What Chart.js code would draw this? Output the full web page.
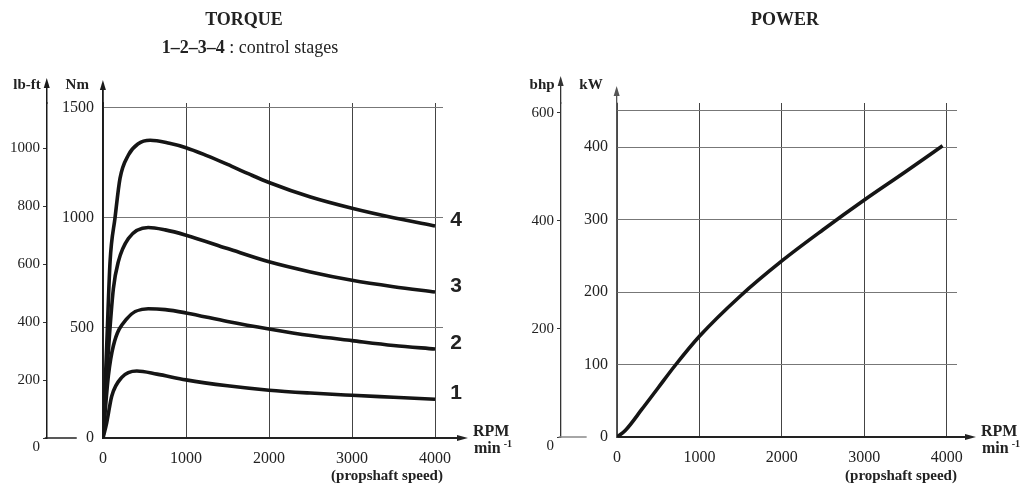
<!DOCTYPE html>
<html>
<head>
<meta charset="utf-8">
<script src="https://cdn.jsdelivr.net/npm/chart.js@4.4.1/dist/chart.umd.min.js"></script>
<style>
  html, body { margin:0; padding:0; background:#fff; }
  body { width:1029px; height:491px; position:relative; overflow:hidden; font-family:"Liberation Serif", serif; color:#222; }
  canvas { position:absolute; top:0; }
  #torque { left:0; }
  #power { left:514px; }
  .t { position:absolute; white-space:nowrap; transform:translate(-50%,-50%); }
  .title { font-weight:bold; font-size:18px; }
  .sub { font-size:18px; }
  .sub b { font-weight:bold; }
</style>
</head>
<body>
<canvas id="torque" width="514" height="491"></canvas>
<canvas id="power" width="515" height="491"></canvas>
<div class="t title" style="left:244px;top:19px;">TORQUE</div>
<div class="t sub" style="left:250px;top:47px;"><b>1–2–3–4</b> : control stages</div>
<div class="t title" style="left:785px;top:19px;">POWER</div>

<script>
// ---------- data ----------
const rpmTicks = [0, 1000, 2000, 3000, 4000];
const nmTicks = [0, 500, 1000, 1500];
const lbftTicks = [0, 200, 400, 600, 800, 1000];
const kwTicks = [0, 100, 200, 300, 400, 450];
const kwLabelled = [0, 100, 200, 300, 400];
const bhpTicks = [0, 200, 400, 600];

const stageNames = ['1', '2', '3', '4'];

const rpmStage1 = [0, 45, 105, 226, 407, 650, 1000, 1500, 2000, 2500, 3000, 3500, 4000];
const nmStage1  = [0, 70, 190, 275, 304, 290, 264, 237, 217, 204, 194, 185, 176];

const rpmStage2 = [0, 65, 125, 286, 545, 750, 1000, 1500, 2000, 2500, 3000, 3500, 4000];
const nmStage2  = [0, 283, 419, 541, 587, 583, 568, 529, 495, 465, 442, 420, 404];

const rpmStage3 = [0, 60, 125, 185, 306, 545, 750, 1000, 1500, 2000, 2500, 3000, 3500, 4000];
const nmStage3  = [0, 370, 678, 801, 906, 956, 945, 921, 860, 800, 754, 716, 687, 663];

const rpmStage4 = [0, 45, 85, 145, 205, 306, 420, 568, 800, 1000, 1250, 1500, 1750, 2000, 2500, 3000, 3500, 4000];
const nmStage4  = [0, 420, 800, 1000, 1179, 1285, 1335, 1352, 1338, 1318, 1282, 1242, 1200, 1160, 1094, 1043, 1000, 963];

const rpmPower = [0, 100, 300, 500, 700, 1000, 1500, 2000, 2500, 3000, 3500, 3950];
const kwPower  = [0, 9, 38, 68, 98, 139, 195, 243, 286, 327, 366, 402];

// ---------- helpers ----------
const zip = (xs, ys) => xs.map((x, i) => ({ x: x, y: ys[i] }));
const SERIF = '"Liberation Serif", serif';
const SANS = '"Liberation Sans", Arial, sans-serif';

function alignX(scale, w) { return Math.round(scale.right - w / 2) + w / 2; }

function decorPlugin(cfg) {
  return {
    id: 'decor',
    afterDraw(chart) {
      const ctx = chart.ctx, ca = chart.chartArea;
      const inner = chart.scales[cfg.inner], outer = chart.scales[cfg.outer], xs = chart.scales.x;
      ctx.save();
      const vArrow = (x, y0, tip, color, w) => {
        ctx.strokeStyle = color; ctx.fillStyle = color; ctx.lineWidth = w;
        ctx.beginPath(); ctx.moveTo(x, y0); ctx.lineTo(x, tip + 6); ctx.stroke();
        ctx.beginPath(); ctx.moveTo(x, tip); ctx.lineTo(x - 3, tip + 10); ctx.lineTo(x + 3, tip + 10); ctx.closePath(); ctx.fill();
      };
      const ix = alignX(inner, cfg.innerW), ox = alignX(outer, cfg.outerW);
      vArrow(ix, ca.top + 1, cfg.innerTip, cfg.innerColor, cfg.innerW);
      vArrow(ox, ca.top + 1, cfg.outerTip, cfg.outerColor, cfg.outerW);
      // x axis arrow
      const by = Math.round(ca.bottom - 1) + 1;
      ctx.strokeStyle = '#222'; ctx.fillStyle = '#222'; ctx.lineWidth = 2;
      ctx.beginPath(); ctx.moveTo(ca.right - 1, by); ctx.lineTo(cfg.xTip - 6, by); ctx.stroke();
      ctx.beginPath(); ctx.moveTo(cfg.xTip, by); ctx.lineTo(cfg.xTip - 11, by - 3); ctx.lineTo(cfg.xTip - 11, by + 3); ctx.closePath(); ctx.fill();
      // baseline segment of outer axis
      ctx.strokeStyle = cfg.baseColor; ctx.lineWidth = 1.5;
      ctx.beginPath(); ctx.moveTo(ox - 2, by); ctx.lineTo(ox + cfg.baseLen, by); ctx.stroke();
      // unit labels
      ctx.fillStyle = '#222'; ctx.textBaseline = 'middle'; ctx.textAlign = 'right';
      ctx.font = 'bold 15px ' + SERIF;
      ctx.fillText(cfg.outerUnit, ox - 6, 85);
      ctx.fillText(cfg.innerUnit, ix - 14, 85);
      // RPM label
      ctx.textAlign = 'left';
      ctx.font = 'bold 16px ' + SERIF;
      ctx.fillText('RPM', cfg.xTip + 5, 432);
      ctx.fillText('min', cfg.xTip + 6, 449);
      const mw = ctx.measureText('min').width;
      ctx.font = 'bold 10px ' + SERIF;
      ctx.fillText('-1', cfg.xTip + 9 + mw, 444);
      // propshaft
      ctx.textAlign = 'center';
      ctx.font = 'bold 15px ' + SERIF;
      ctx.fillText('(propshaft speed)', xs.left + 284, 476);
      // curve labels
      if (cfg.curveLabels) {
        ctx.font = 'bold 21px ' + SANS;
        ctx.textAlign = 'center';
        chart.data.datasets.forEach((ds, i) => {
          const pts = chart.getDatasetMeta(i).data;
          const last = pts[pts.length - 1];
          ctx.fillText(ds.label, ca.right + 13, last.y - 6);
        });
      }
      ctx.restore();
    }
  };
}

function tickSetter(list) { return s => { s.ticks = list.map(v => ({ value: v })); }; }
const plain = v => String(v);

function xScale(max) {
  return {
    type: 'linear', min: 0, max: max,
    afterBuildTicks: tickSetter(rpmTicks),
    grid: { color: '#444', lineWidth: 1, drawTicks: false },
    border: { color: '#222', width: 2 },
    ticks: { padding: 11, autoSkip: false, maxRotation: 0, color: '#222', font: { family: SERIF, size: 16 }, callback: plain },
    afterFit: s => { s.height = 491 - 438; }
  };
}

// ---------- torque chart ----------
const stageRpm = [rpmStage1, rpmStage2, rpmStage3, rpmStage4];
const stageNm = [nmStage1, nmStage2, nmStage3, nmStage4];

new Chart(document.getElementById('torque'), {
  type: 'line',
  data: {
    datasets: stageNames.map((n, i) => ({
      label: n, data: zip(stageRpm[i], stageNm[i]), yAxisID: 'nm',
      borderColor: '#151515', borderWidth: 3.6, pointRadius: 0,
      cubicInterpolationMode: 'monotone', fill: false
    }))
  },
  options: {
    responsive: false, animation: false, devicePixelRatio: 1,
    layout: { padding: { left: 0, top: 103, right: 71, bottom: 0 } },
    plugins: { legend: { display: false }, tooltip: { enabled: false }, title: { display: false } },
    scales: {
      x: xScale(4096),
      nm: {
        position: 'left', weight: 1, min: 0, max: 1521,
        afterBuildTicks: tickSetter(nmTicks),
        grid: { color: '#777', lineWidth: 1, drawTicks: false },
        border: { color: '#1a1a1a', width: 1.8 },
        ticks: { padding: 9, color: '#222', font: { family: SERIF, size: 16 }, callback: plain },
        afterFit: s => { s.width = 56; }
      },
      lbft: {
        position: 'left', weight: 2, min: 0, max: 1156,
        afterBuildTicks: tickSetter(lbftTicks),
        grid: { drawOnChartArea: false, drawTicks: true, tickLength: 4, color: '#333' },
        border: { color: '#1a1a1a', width: 1.5 },
        ticks: { padding: 3, color: '#222', font: { family: SERIF, size: 15 },
                 callback: v => v === 0 ? ['', '0'] : String(v) },
        afterFit: s => { s.width = 47; }
      }
    }
  },
  plugins: [decorPlugin({
    inner: 'nm', outer: 'lbft', innerW: 1.8, outerW: 1.5,
    innerColor: '#1a1a1a', outerColor: '#1a1a1a',
    innerTip: 80, outerTip: 78, xTip: 468, baseLen: 30, baseColor: '#222',
    innerUnit: 'Nm', outerUnit: 'lb-ft', curveLabels: true
  })]
});

// ---------- power chart ----------
new Chart(document.getElementById('power'), {
  type: 'line',
  data: {
    datasets: [{
      label: 'power', data: zip(rpmPower, kwPower), yAxisID: 'kw',
      borderColor: '#151515', borderWidth: 3.6, pointRadius: 0,
      cubicInterpolationMode: 'monotone', fill: false
    }]
  },
  options: {
    responsive: false, animation: false, devicePixelRatio: 1,
    layout: { padding: { left: 0, top: 103, right: 72, bottom: 0 } },
    plugins: { legend: { display: false }, tooltip: { enabled: false } },
    scales: {
      x: Object.assign(xScale(4125), { afterFit: s => { s.height = 491 - 437; } }),
      kw: {
        position: 'left', weight: 1, min: 0, max: 461,
        afterBuildTicks: tickSetter(kwTicks),
        grid: { color: '#777', lineWidth: 1, drawTicks: false },
        border: { color: '#555', width: 1.3 },
        ticks: { padding: 9, color: '#222', font: { family: SERIF, size: 16 },
                 callback: v => kwLabelled.includes(v) ? String(v) : '' },
        afterFit: s => { s.width = 56; }
      },
      bhp: {
        position: 'left', weight: 2, min: 0, max: 618,
        afterBuildTicks: tickSetter(bhpTicks),
        grid: { drawOnChartArea: false, drawTicks: true, tickLength: 4, color: '#333' },
        border: { color: '#333', width: 1.3 },
        ticks: { padding: 3, color: '#222', font: { family: SERIF, size: 15 },
                 callback: v => v === 0 ? ['', '0'] : String(v) },
        afterFit: s => { s.width = 47; }
      }
    }
  },
  plugins: [decorPlugin({
    inner: 'kw', outer: 'bhp', innerW: 1.3, outerW: 1.3,
    innerColor: '#555', outerColor: '#333',
    innerTip: 86, outerTip: 76, xTip: 462, baseLen: 26, baseColor: '#888',
    innerUnit: 'kW', outerUnit: 'bhp', curveLabels: false
  })]
});
</script>
</body>
</html>
